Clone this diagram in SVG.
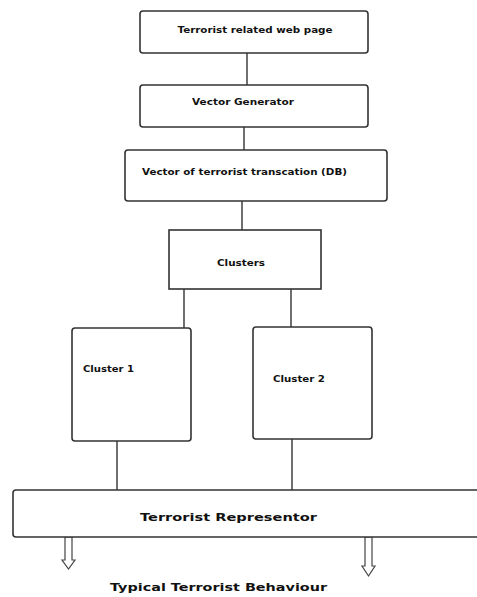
<svg xmlns="http://www.w3.org/2000/svg" width="477" height="597" viewBox="0 0 477 597">
<style>
.box{fill:#fff;stroke:#333;stroke-width:1.6}
.t{font-family:"DejaVu Sans",sans-serif;font-weight:bold;font-size:8px;fill:#111}
.tb{font-family:"DejaVu Sans",sans-serif;font-weight:bold;font-size:11px;fill:#111}
.c{stroke:#333;stroke-width:1.4;fill:none}
.ar{fill:#fff;stroke:#444;stroke-width:1.2}
</style>
<rect width="477" height="597" fill="#fff"/>
<g id="connectors">
<line class="c" x1="247" y1="53" x2="247" y2="85"/>
<line class="c" x1="244" y1="127" x2="244" y2="150"/>
<line class="c" x1="242" y1="201" x2="242" y2="230"/>
<line class="c" x1="184" y1="289" x2="184" y2="328"/>
<line class="c" x1="291" y1="289" x2="291" y2="327"/>
<line class="c" x1="117" y1="441" x2="117" y2="490"/>
<line class="c" x1="292" y1="439" x2="292" y2="490"/>
<path class="ar" d="M65,537 V560 H62 L68.5,569 L75,560 H72 V537 Z"/>
<path class="ar" d="M365,537 V566 H362 L368.5,576 L375,566 H372 V537 Z"/>
</g>
<g id="n1"><rect class="box" x="140" y="11" width="228" height="42" rx="3"/><text class="t" x="255" y="33" text-anchor="middle" textLength="155" lengthAdjust="spacingAndGlyphs">Terrorist related web page</text></g>
<g id="n2"><rect class="box" x="140" y="85" width="228" height="42" rx="3"/><text class="t" x="243" y="105" text-anchor="middle" textLength="102" lengthAdjust="spacingAndGlyphs">Vector Generator</text></g>
<g id="n3"><rect class="box" x="125" y="150" width="262" height="51" rx="3"/><text class="t" x="244.5" y="175" text-anchor="middle" textLength="205" lengthAdjust="spacingAndGlyphs">Vector of terrorist transcation (DB)</text></g>
<g id="n4"><rect class="box" x="169" y="230" width="152" height="59"/><text class="t" x="241" y="266" text-anchor="middle" textLength="48" lengthAdjust="spacingAndGlyphs">Clusters</text></g>
<g id="n5"><rect class="box" x="72" y="328" width="119" height="113" rx="3"/><text class="t" x="83" y="372" textLength="51" lengthAdjust="spacingAndGlyphs">Cluster 1</text></g>
<g id="n6"><rect class="box" x="253" y="327" width="119" height="112" rx="3"/><text class="t" x="273" y="382" textLength="52" lengthAdjust="spacingAndGlyphs">Cluster 2</text></g>
<g id="n7"><rect class="box" x="13" y="490" width="470" height="47" rx="3"/><text class="tb" x="228.5" y="521" text-anchor="middle" textLength="177" lengthAdjust="spacingAndGlyphs">Terrorist Representor</text></g>
<g id="n8"><text class="tb" x="218.5" y="591" text-anchor="middle" textLength="217" lengthAdjust="spacingAndGlyphs">Typical Terrorist Behaviour</text></g>
</svg>
